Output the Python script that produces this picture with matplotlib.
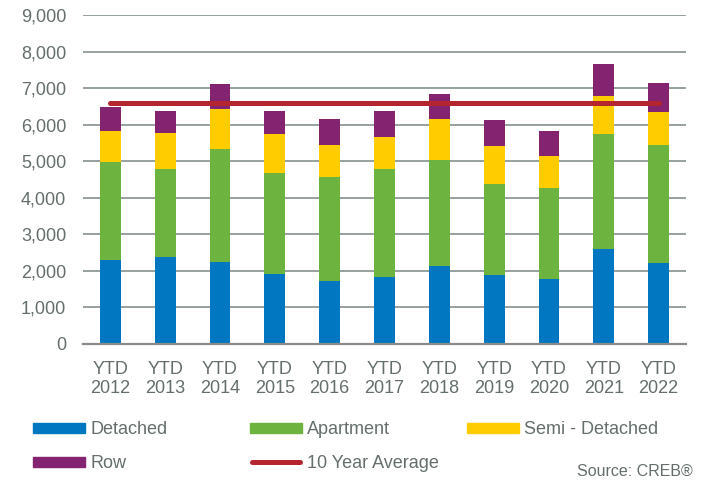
import numpy as np
import matplotlib
matplotlib.use("Agg")
import matplotlib.pyplot as plt
from matplotlib.patches import Rectangle
from matplotlib.lines import Line2D

plt.rcParams['font.family'] = ['Liberation Sans', 'DejaVu Sans']

# data (cumulative tops converted to segment values)
years = ["YTD\n2012", "YTD\n2013", "YTD\n2014", "YTD\n2015", "YTD\n2016", "YTD\n2017",
         "YTD\n2018", "YTD\n2019", "YTD\n2020", "YTD\n2021", "YTD\n2022"]
detached = [2300, 2375, 2255, 1925, 1720, 1845, 2130, 1875, 1790, 2610, 2225]
apartment = [2690, 2405, 3090, 2755, 2855, 2935, 2905, 2505, 2485, 3135, 3220]
semi = [845, 990, 1080, 1065, 870, 880, 1120, 1030, 870, 1030, 910]
row = [655, 610, 700, 630, 700, 710, 690, 725, 690, 890, 790]
ten_year_avg = 6600

c_det = "#0077C0"
c_apt = "#6DB33F"
c_semi = "#FFCC00"
c_row = "#84236F"
c_avg = "#B5252F"
grid_c = "#8E9A96"
text_c = "#646F6B"

fig = plt.figure(figsize=(7.13, 4.83), dpi=100)
ax = fig.add_axes([83 / 713, 1 - 344 / 483, 603 / 713, 329 / 483])

x = np.arange(len(years))
w = 0.38
b1 = np.array(detached)
b2 = b1 + np.array(apartment)
b3 = b2 + np.array(semi)
ax.bar(x, detached, w, color=c_det, zorder=2)
ax.bar(x, apartment, w, bottom=b1, color=c_apt, zorder=2)
ax.bar(x, semi, w, bottom=b2, color=c_semi, zorder=2)
ax.bar(x, row, w, bottom=b3, color=c_row, zorder=2)
ax.plot([x[0], x[-1]], [ten_year_avg, ten_year_avg], color=c_avg, lw=3.6,
        solid_capstyle='round', zorder=3)

ax.set_xlim(-0.5, len(years) - 0.5)
ax.set_ylim(0, 9000)
ax.set_yticks(range(0, 9001, 1000))
ax.set_yticklabels([f"{v:,}" for v in range(0, 9001, 1000)])
ax.set_xticks(x)
ax.set_xticklabels(years, linespacing=1.2)
ax.yaxis.grid(True, color=grid_c, lw=1.3, zorder=0)
ax.set_axisbelow(True)
for s in ["top", "right", "left"]:
    ax.spines[s].set_visible(False)
ax.spines["bottom"].set_color("#8A8A8A")
ax.spines["bottom"].set_linewidth(1.6)
ax.tick_params(axis="both", length=0, labelsize=13, colors=text_c)
ax.tick_params(axis="y", pad=12)
ax.tick_params(axis="x", pad=12)

# legend drawn by hand to get the spacing of the original
def px(xp, yp):
    return xp / 713, 1 - yp / 483

items = [("Detached", c_det, "patch", 33, 428),
         ("Apartment", c_apt, "patch", 250, 428),
         ("Semi - Detached", c_semi, "patch", 467, 428),
         ("Row", c_row, "patch", 33, 462),
         ("10 Year Average", c_avg, "line", 250, 462)]
for label, col, kind, xp, yp in items:
    if kind == "patch":
        x0, y0 = px(xp, yp + 5)
        fig.patches.append(Rectangle((x0, y0), 52 / 713, 10 / 483, color=col,
                                     transform=fig.transFigure, figure=fig))
    else:
        xa, ya = px(xp + 2, yp)
        xb, _ = px(xp + 50, yp)
        fig.lines.append(Line2D([xa, xb], [ya, ya], color=col, lw=3.6,
                                solid_capstyle='round', transform=fig.transFigure))
    tx, ty = px(xp + 57, yp + 1)
    fig.text(tx, ty, label, fontsize=13, color=text_c, va="center", ha="left")

sx, sy = px(693, 471)
fig.text(sx, sy, "Source: CREB®", fontsize=11.5, color=text_c, va="center", ha="right")

fig.savefig("out.png", dpi=100)
